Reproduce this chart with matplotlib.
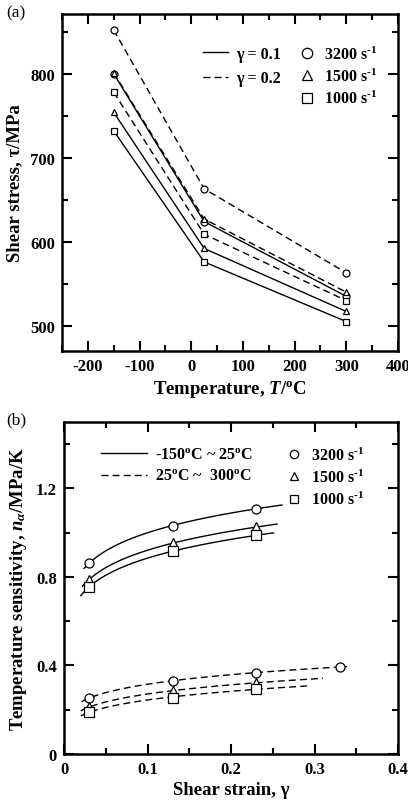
import numpy as np
import matplotlib
matplotlib.use("Agg")
import matplotlib.pyplot as plt
from matplotlib.lines import Line2D
from matplotlib.ticker import MultipleLocator

plt.rcParams['font.family'] = ['Liberation Serif', 'DejaVu Serif']
plt.rcParams['font.weight'] = 'bold'
plt.rcParams['axes.unicode_minus'] = False
plt.rcParams['mathtext.fontset'] = 'custom'
plt.rcParams['mathtext.rm'] = 'Liberation Serif:bold'
plt.rcParams['mathtext.bf'] = 'Liberation Serif:bold'
plt.rcParams['mathtext.it'] = 'Liberation Serif:italic:bold'

# ---------------- data panel (a) ----------------
temps = [-150, 25, 300]
rates = ["3200", "1500", "1000"]
markers = ["o", "^", "s"]
stress_g01 = {"3200": [800, 624, 535], "1500": [754, 592, 517], "1000": [732, 576, 505]}
stress_g02 = {"3200": [852, 663, 563], "1500": [801, 627, 540], "1000": [778, 609, 530]}

# ---------------- data panel (b) ----------------
strain = [0.03, 0.13, 0.23]
strain_3200_hi = [0.03, 0.13, 0.23, 0.33]
n_low = {"3200": [0.862, 1.032, 1.108], "1500": [0.788, 0.954, 1.024], "1000": [0.755, 0.916, 0.988]}
n_high = {"3200": [0.2525, 0.331, 0.368, 0.393], "1500": [0.212, 0.286, 0.322], "1000": [0.189, 0.255, 0.295]}
fit_range_low = {"3200": (0.024, 0.261), "1500": (0.022, 0.255), "1000": (0.02, 0.251)}
fit_range_high = {"3200": (0.021, 0.339), "1500": (0.02, 0.31), "1000": (0.02, 0.291)}

fig = plt.figure(figsize=(4.08, 8.04), dpi=100)
axA = fig.add_axes([0.152, 0.5622, 0.8235, 0.4191])
axB = fig.add_axes([0.157, 0.0609, 0.8186, 0.4130])

TICKFS = 12
def style_axis(ax):
    for s in ax.spines.values():
        s.set_linewidth(1.8)
    ax.tick_params(which='both', direction='in', top=True, right=True, width=1.5,
                   labelsize=TICKFS, pad=5)
    ax.tick_params(which='major', length=7)
    ax.tick_params(which='minor', length=4)
    for lab in ax.get_xticklabels() + ax.get_yticklabels():
        lab.set_fontweight('bold')

DASH = (5, 3)
# ---- panel a ----
for r, m in zip(rates, markers):
    axA.plot(temps, stress_g01[r], '-', color='black', lw=1.0, marker=m, ms=5,
             mfc='white', mec='black', mew=0.9)
    axA.plot(temps, stress_g02[r], '--', color='black', lw=1.0, dashes=DASH, marker=m, ms=5,
             mfc='white', mec='black', mew=0.9)
axA.set_xlim(-250, 400)
axA.set_ylim(470, 871)
axA.xaxis.set_major_locator(MultipleLocator(100))
axA.xaxis.set_minor_locator(MultipleLocator(50))
axA.yaxis.set_major_locator(MultipleLocator(100))
axA.yaxis.set_minor_locator(MultipleLocator(50))
style_axis(axA)
axA.set_xlabel(r"Temperature, $T$/$^{\mathbf{o}}$C", fontsize=13.5, fontweight='bold', labelpad=3)
axA.set_ylabel("Shear stress, τ/MPa", fontsize=13.5, fontweight='bold', labelpad=5)

lh = [Line2D([], [], color='black', lw=1.0, ls='-'),
      Line2D([], [], color='black', lw=1.0, ls='--', dashes=DASH)]
legA1 = axA.legend(lh, ["γ = 0.1", "γ = 0.2"], loc='upper left', bbox_to_anchor=(0.40, 0.925),
                   frameon=False, fontsize=11.5, handlelength=1.6, handletextpad=0.5,
                   labelspacing=0.55, borderaxespad=0)
axA.add_artist(legA1)
mh = [Line2D([], [], ls='none', marker=m, ms=7.5, mfc='white', mec='black', mew=0.9) for m in markers]
axA.legend(mh, [r + r" s$^{\text{-1}}$" for r in rates], loc='upper left', bbox_to_anchor=(0.685, 0.925),
           frameon=False, fontsize=11.5, handlelength=1.0, handletextpad=0.6,
           labelspacing=0.3, borderaxespad=0)

# ---- panel b ----
def powerfit(x, y, rng):
    b, a = np.polyfit(np.log(x), np.log(y), 1)
    xx = np.linspace(rng[0], rng[1], 100)
    return xx, np.exp(a) * xx ** b

for r, m in zip(rates, markers):
    xs = strain
    xx, yy = powerfit(xs, n_low[r], fit_range_low[r])
    axB.plot(xx, yy, '-', color='black', lw=1.0)
    axB.plot(xs, n_low[r], ls='none', marker=m, ms=6.5, mfc='white', mec='black', mew=0.9)
    xh = strain_3200_hi if r == "3200" else strain
    xx, yy = powerfit(xh, n_high[r], fit_range_high[r])
    axB.plot(xx, yy, '--', color='black', lw=1.0, dashes=DASH)
    axB.plot(xh, n_high[r], ls='none', marker=m, ms=6.5, mfc='white', mec='black', mew=0.9)

axB.set_xlim(0, 0.4)
axB.set_ylim(0, 1.5)
axB.xaxis.set_major_locator(MultipleLocator(0.1))
axB.xaxis.set_minor_locator(MultipleLocator(0.05))
axB.yaxis.set_major_locator(MultipleLocator(0.4))
axB.yaxis.set_minor_locator(MultipleLocator(0.2))
axB.xaxis.set_major_formatter(lambda v, p: "0" if abs(v) < 1e-9 else f"{v:.1f}")
axB.yaxis.set_major_formatter(lambda v, p: "0" if abs(v) < 1e-9 else f"{v:.1f}")
style_axis(axB)
axB.set_xlabel("Shear strain, γ", fontsize=13.5, fontweight='bold', labelpad=3)
axB.set_ylabel(r"Temperature sensitivity, $n_\alpha$/MPa/K", fontsize=13.5, fontweight='bold', labelpad=5)

legB1 = axB.legend(lh, [r"-150$^{\mathbf{o}}$C ~ 25$^{\mathbf{o}}$C", r"25$^{\mathbf{o}}$C ~  300$^{\mathbf{o}}$C"],
                   loc='upper left', bbox_to_anchor=(0.09, 0.945), frameon=False, fontsize=11.5,
                   handlelength=2.9, handletextpad=0.5, labelspacing=0.35, borderaxespad=0)
axB.add_artist(legB1)
mhb = [Line2D([], [], ls='none', marker=m, ms=6, mfc='white', mec='black', mew=0.9) for m in markers]
axB.legend(mhb, [r + r" s$^{\text{-1}}$" for r in rates], loc='upper left', bbox_to_anchor=(0.645, 0.945),
           frameon=False, fontsize=11.5, handlelength=1.0, handletextpad=0.6,
           labelspacing=0.3, borderaxespad=0)

fig.text(0.015, 0.993, "(a)", fontsize=12.5, fontweight='normal', va='top', ha='left')
fig.text(0.015, 0.487, "(b)", fontsize=12.5, fontweight='normal', va='top', ha='left')

fig.savefig("out.png", dpi=100)
